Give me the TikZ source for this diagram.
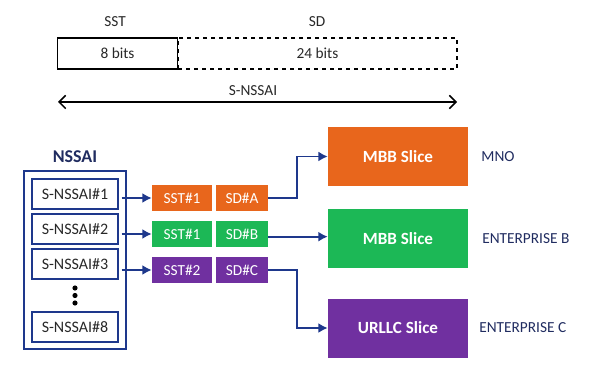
\documentclass[tikz,border=0pt]{standalone}
\usepackage{fontspec}
\setmainfont{Carlito}
\usetikzlibrary{arrows.meta}
\definecolor{cOrange}{RGB}{232,102,28}
\definecolor{cGreen}{RGB}{28,184,86}
\definecolor{cPurple}{RGB}{112,48,160}
\definecolor{cBlue}{RGB}{30,56,140}
\definecolor{cNavy}{RGB}{32,44,96}
\definecolor{cText}{RGB}{40,40,40}
\tikzset{
  fieldbox/.style={draw=black, line width=1pt, inner sep=0pt, minimum height=23.25pt, text=cText, font=\fontsize{11.5}{13}\selectfont},
  listbox/.style={draw=cBlue, line width=1.3pt, inner sep=0pt, minimum width=64.5pt, minimum height=22.5pt, text=cText, font=\fontsize{12}{14}\selectfont},
  tagbox/.style={fill=#1, inner sep=0pt, minimum height=19.5pt, text=white, font=\fontsize{11.5}{14}\selectfont},
  slicebox/.style={fill=#1, inner sep=0pt, minimum width=105pt, minimum height=44.25pt, text=white, font=\bfseries\fontsize{12.8}{15}\selectfont},
  plainlabel/.style={inner sep=0pt, text=cText, font=\fontsize{11.5}{13}\selectfont},
  ownerlabel/.style={inner sep=0pt, text=cNavy, font=\fontsize{11.5}{14}\selectfont},
  conn/.style={draw=cBlue, line width=1.4pt, -{Latex[length=7pt,width=7.5pt]}},
}
\begin{document}
\begin{tikzpicture}[x=0.75pt,y=-0.75pt]
\useasboundingbox (0,0) rectangle (613,391);
% header fields
\node[fieldbox, dashed, minimum width=209.25pt] (b24) at (317.5,53.5) {24 bits};
\node[fieldbox, minimum width=90pt] (b8) at (117.5,53.5) {8 bits};
\node[plainlabel] (sstl) at (115,22) {SST};
\node[plainlabel] (sdl) at (317,22) {SD};
\coordinate (al) at (58,102);
\coordinate (ar) at (457,102);
\draw[line width=1.1pt, {Straight Barb[length=5pt,width=10pt]}-{Straight Barb[length=5pt,width=10pt]}] (al) -- (ar);
\node[plainlabel] (snl) at (253,91) {S-NSSAI};
% NSSAI list
\node[inner sep=0pt, text=cNavy, font=\bfseries\fontsize{13.5}{16}\selectfont] (nssail) at (75,157) {NSSAI};
\node[draw=cBlue, line width=1.2pt, inner sep=0pt, minimum width=76.5pt, minimum height=133.5pt] (outer) at (75,260) {};
\node[listbox] (n1) at (75,194) {S-NSSAI\#1};
\node[listbox] (n2) at (75,229) {S-NSSAI\#2};
\node[listbox] (n3) at (75,264) {S-NSSAI\#3};
\node[listbox] (n8) at (75,327) {S-NSSAI\#8};
\fill[black] (75,288) circle (2.6) (75,295.5) circle (2.6) (75,303) circle (2.6);
% tags
\node[tagbox=cOrange, minimum width=45pt] (sst1) at (182,198) {SST\#1};
\node[tagbox=cOrange, minimum width=39pt] (sda) at (242,198) {SD\#A};
\node[tagbox=cGreen, minimum width=45pt] (sst2) at (182,234) {SST\#1};
\node[tagbox=cGreen, minimum width=39pt] (sdb) at (242,234) {SD\#B};
\node[tagbox=cPurple, minimum width=45pt] (sst3) at (182,270) {SST\#2};
\node[tagbox=cPurple, minimum width=39pt] (sdc) at (242,270) {SD\#C};
% slices
\node[slicebox=cOrange] (mbb1) at (398,156.5) {MBB Slice};
\node[slicebox=cGreen] (mbb2) at (398,239) {MBB Slice};
\node[slicebox=cPurple] (urllc) at (398,328) {URLLC Slice};
\node[ownerlabel] (mno) at (498,157) {MNO};
\node[ownerlabel, anchor=west] (entb) at (482,239) {ENTERPRISE B};
\node[ownerlabel, anchor=west] (entc) at (479,328) {ENTERPRISE C};
% connectors
\draw[conn] ([xshift=2pt]n1.east |- sst1.west) -- (sst1.west);
\draw[conn] ([xshift=2pt]n2.east |- sst2.west) -- (sst2.west);
\draw[conn] ([xshift=2pt]n3.east |- sst3.west) -- (sst3.west);
\draw[conn] (sda.east) -- ++(29,0) |- (mbb1.west);
\draw[conn] ([yshift=-2pt]sdb.east) -- ([yshift=-2pt]mbb2.west |- sdb.east);
\draw[conn] (sdc.east) -- ++(29,0) |- (urllc.west);
\end{tikzpicture}
\end{document}
